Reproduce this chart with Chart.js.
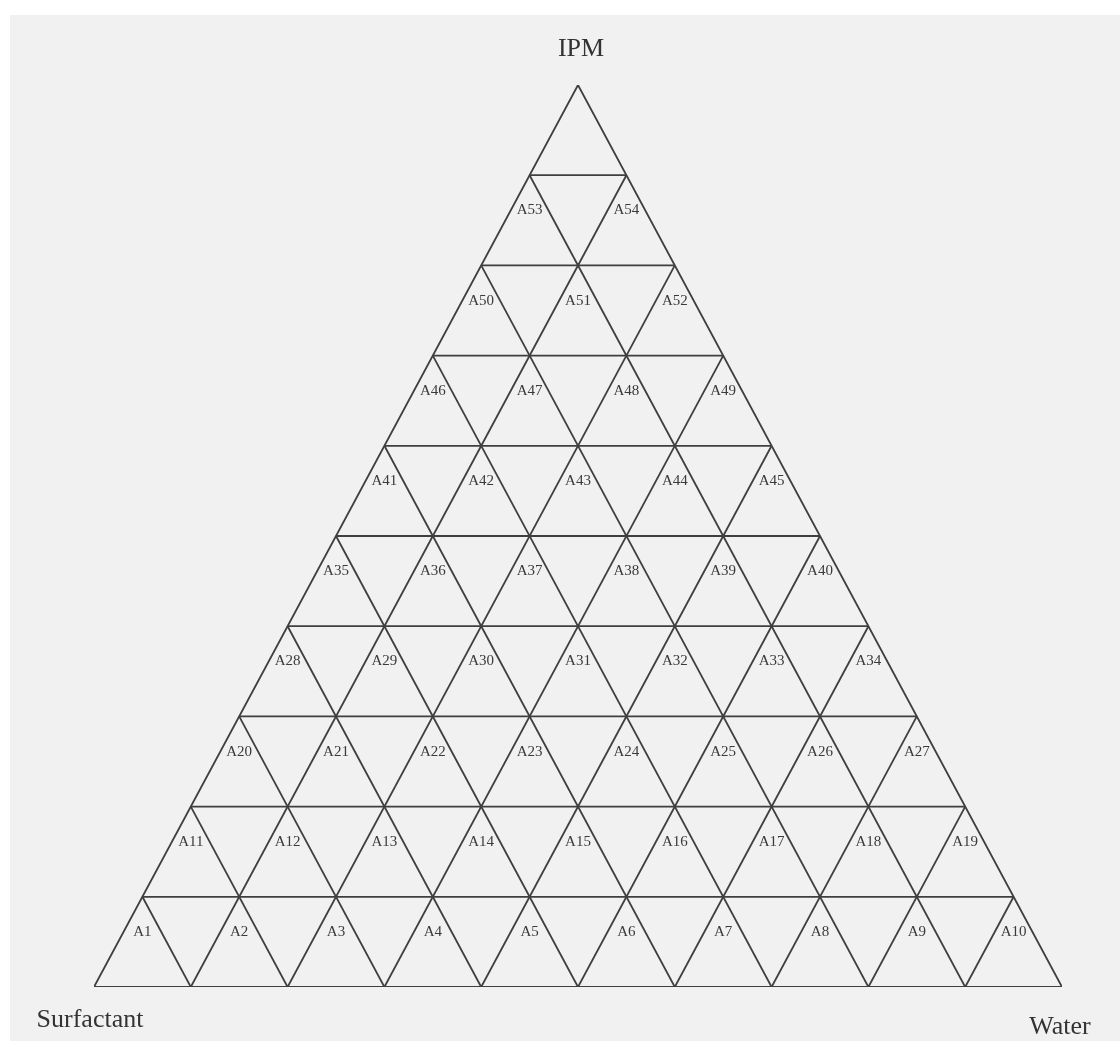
<!DOCTYPE html>
<html>
<head>
<meta charset="utf-8">
<script src="https://cdn.jsdelivr.net/npm/chart.js@4/dist/chart.umd.min.js"></script>
<style>
    html, body { margin: 0; padding: 0; background: #ffffff; }
    #paper { position: absolute; left: 10px; top: 15px; right: 0; bottom: 0; background: #f1f1f1; }
    #wrap { position: absolute; left: 0; top: 0; width: 1120px; height: 1041px; }
</style>
</head>
<body>
<div id="paper"></div>
<div id="wrap"><canvas id="ternaryChart"></canvas></div>
<script>
// corner names of the phase diagram
const cornerTop = "IPM";
const cornerLeft = "Surfactant";
const cornerRight = "Water";

// grid levels (% of each component)
const gridLevels = [10, 20, 30, 40, 50, 60, 70, 80, 90];

// formulation labels, one list per row of upward triangles (bottom row first)
const rowLabels = [
    ["A1", "A2", "A3", "A4", "A5", "A6", "A7", "A8", "A9", "A10"],
    ["A11", "A12", "A13", "A14", "A15", "A16", "A17", "A18", "A19"],
    ["A20", "A21", "A22", "A23", "A24", "A25", "A26", "A27"],
    ["A28", "A29", "A30", "A31", "A32", "A33", "A34"],
    ["A35", "A36", "A37", "A38", "A39", "A40"],
    ["A41", "A42", "A43", "A44", "A45"],
    ["A46", "A47", "A48", "A49"],
    ["A50", "A51", "A52"],
    ["A53", "A54"]
];

document.addEventListener("DOMContentLoaded", function () {
    let ctx = document.getElementById("ternaryChart").getContext("2d");

    // ternary (water, ipm) -> plot coords; x runs along the base, y is the IPM %
    function pt(water, ipm) {
        return { x: water + ipm / 2, y: ipm };
    }

    const lineStyle = {
        showLine: true,
        borderColor: "#3f3f3f",
        borderWidth: 1.8,
        pointRadius: 0,
        fill: false
    };

    let datasets = [];

    // outer triangle
    datasets.push(Object.assign({ data: [pt(0, 0), pt(100, 0), pt(0, 100), pt(0, 0)] }, lineStyle));

    gridLevels.forEach(v => {
        // constant IPM
        datasets.push(Object.assign({ data: [pt(0, v), pt(100 - v, v)] }, lineStyle));
        // constant water
        datasets.push(Object.assign({ data: [pt(v, 0), pt(v, 100 - v)] }, lineStyle));
        // constant surfactant
        datasets.push(Object.assign({ data: [pt(100 - v, 0), pt(0, 100 - v)] }, lineStyle));
    });

    // text labels drawn at data positions through the chart scales
    const labelPlugin = {
        id: "ternaryLabels",
        afterDatasetsDraw(chart) {
            const c = chart.ctx;
            const xs = chart.scales.x;
            const ys = chart.scales.y;
            c.save();
            c.textAlign = "center";
            c.textBaseline = "middle";

            c.fillStyle = "#3a3a3a";
            c.font = "15px 'Liberation Serif', serif";
            rowLabels.forEach((row, r) => {
                row.forEach((name, k) => {
                    // label sits inside the upward triangle, below its apex
                    const ipm = 10 * r + 6.1;
                    const water = 10 * k + 5 - 3.05;
                    const p = pt(water, ipm);
                    c.fillText(name, xs.getPixelForValue(p.x), ys.getPixelForValue(p.y));
                });
            });

            c.fillStyle = "#333";
            c.font = "26px 'Liberation Serif', serif";
            c.fillText(cornerTop, xs.getPixelForValue(50) + 3, ys.getPixelForValue(100) - 36);
            c.fillText(cornerLeft, xs.getPixelForValue(0) - 4, ys.getPixelForValue(0) + 33);
            c.fillText(cornerRight, xs.getPixelForValue(100) - 2, ys.getPixelForValue(0) + 40);
            c.restore();
        }
    };

    new Chart(ctx, {
        type: "scatter",
        data: { datasets: datasets },
        options: {
            responsive: true,
            maintainAspectRatio: false,
            animation: false,
            layout: { padding: { left: 94, right: 58, top: 85, bottom: 54 } },
            plugins: { legend: { display: false }, tooltip: { enabled: false } },
            scales: {
                x: { type: "linear", min: 0, max: 100, display: false },
                y: { type: "linear", min: 0, max: 100, display: false }
            }
        },
        plugins: [labelPlugin]
    });
});
</script>
</body>
</html>
